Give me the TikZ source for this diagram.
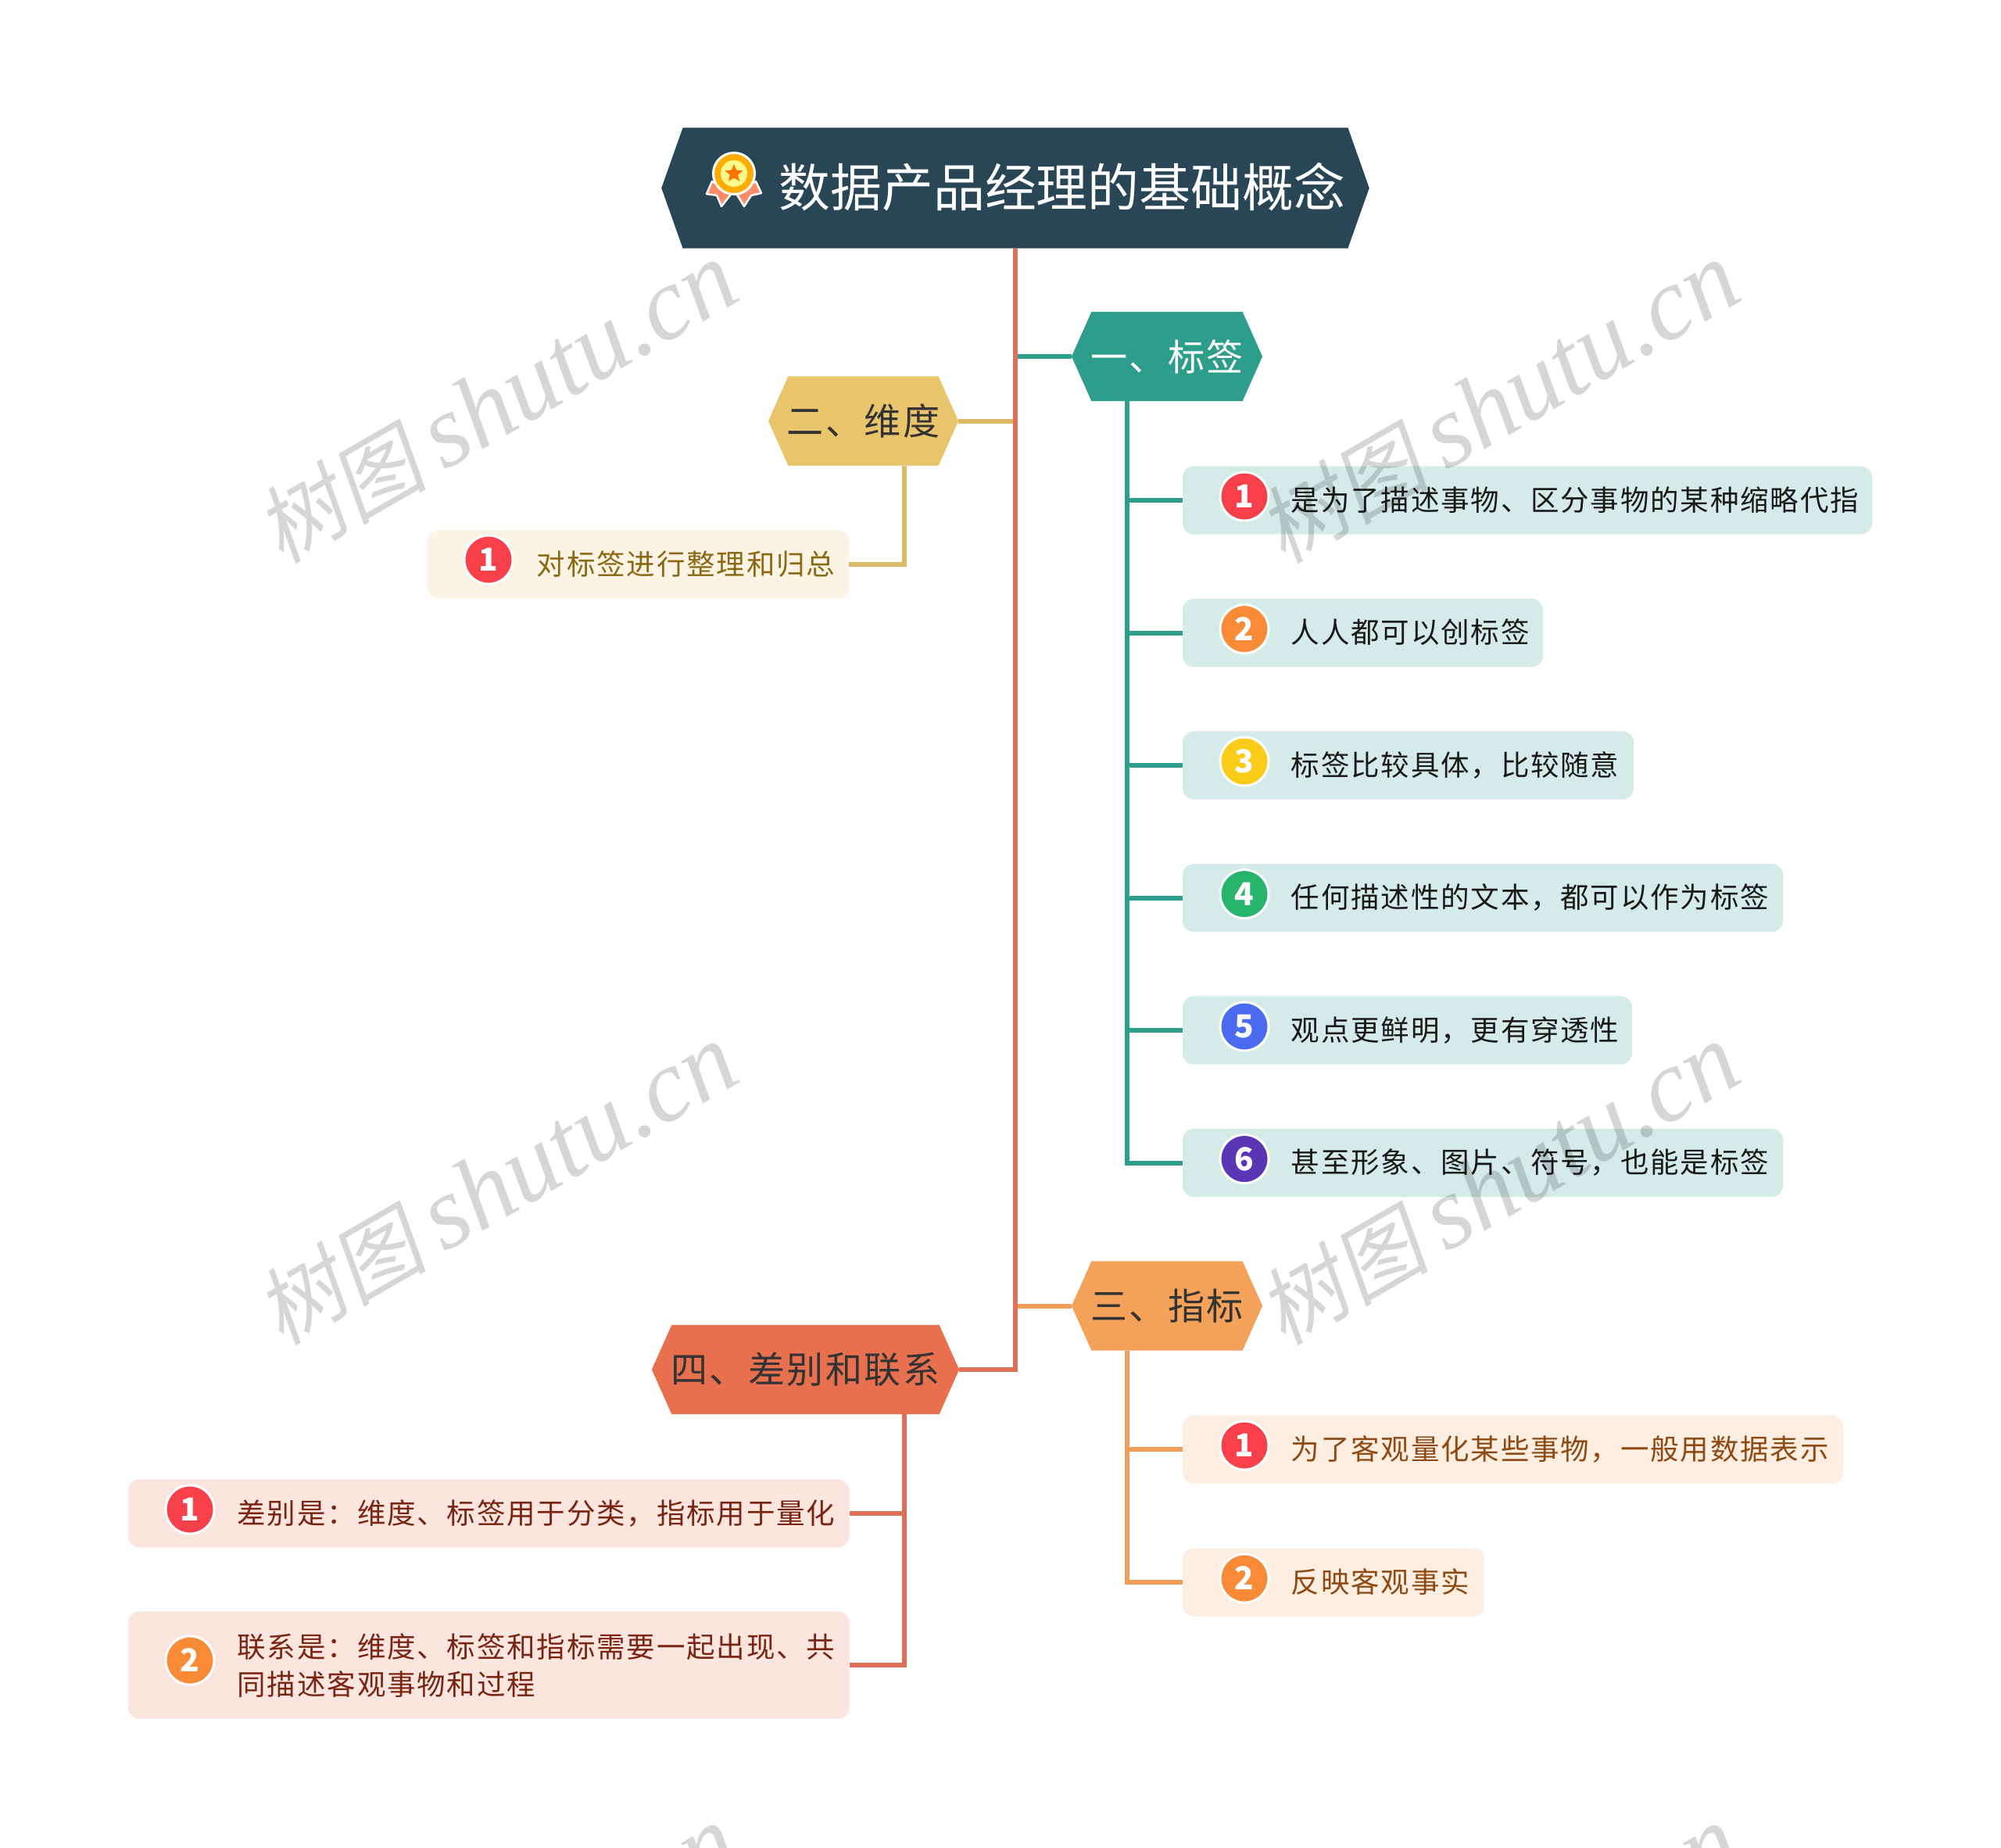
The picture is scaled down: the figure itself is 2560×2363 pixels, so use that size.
\documentclass[tikz,border=0pt]{standalone}
\usepackage{fontspec}
\setmainfont{Liberation Serif}
\newfontfamily\cjk[LetterSpace=5]{Noto Sans CJK SC}
\newfontfamily\cjkplain{Noto Sans CJK SC}
\newfontfamily\cjkslant[FakeSlant=.18]{Noto Sans CJK SC}
\usetikzlibrary{shapes.geometric,shapes.symbols}
\definecolor{rootfill}{HTML}{284655}
\definecolor{tagfill}{HTML}{2D9D8C}
\definecolor{dimfill}{HTML}{E8C46A}
\definecolor{metricfill}{HTML}{F4A15A}
\definecolor{linkfill}{HTML}{E8704F}
\definecolor{trunkline}{HTML}{DE6F56}
\definecolor{badgeone}{HTML}{F8404A}
\definecolor{badgetwo}{HTML}{F98B36}
\definecolor{dimtextcol}{HTML}{8B6914}
\definecolor{metrictextcol}{HTML}{8E4A12}
\definecolor{linktextcol}{HTML}{7A2412}
\begin{document}
\begin{tikzpicture}[
  x=.01cm,y=-.01cm,
  hexa/.style={
    signal,signal from=nowhere,signal to=east and west,draw=none,outer sep=0pt,
    inner xsep=-.1cm,inner ysep=0pt,signal pointer angle=132,minimum height=1.14cm,
    font=\cjk\fontsize{13.4}{15}\selectfont,text=black!80
  },
  leafbox/.style={rounded corners=.14cm,minimum height=.87cm,inner sep=0pt,outer sep=0pt},
  leaftext/.style={anchor=base west,inner sep=0pt,font=\cjk\fontsize{10.38}{14.2}\selectfont},
  badge/.style={
    circle,draw=white,line width=.03cm,minimum size=.62cm,inner sep=0pt,
    text=white,font=\cjkplain\fontsize{11.5}{10}\selectfont\bfseries
  },
  ribbon/.style={fill=orange!50!red!60!white,draw=white,line width=.025cm,line join=round},
  tagline/.style={draw=tagfill,line width=.06cm},
  dimline/.style={draw=dimfill!95!black,line width=.06cm},
  metricline/.style={draw=metricfill!90!brown,line width=.06cm},
  linkline/.style={draw=trunkline,line width=.06cm},
  watermark/.style={
    rotate=30,text=black,text opacity=.16,inner sep=0pt,
    font=\fontsize{37.5}{38}\selectfont\itshape
  }
]
  \useasboundingbox (0,0) rectangle (2560,2363);

  % main topics
  \node[hexa,fill=rootfill,minimum width=9.05cm,minimum height=1.54cm,signal pointer angle=141] (root) at (1299,240.5) {};
  \node[hexa,fill=tagfill,minimum width=2.44cm,text=white] (tagtopic) at (1493,456) {一、标签};
  \node[hexa,fill=dimfill,minimum width=2.43cm] (dimtopic) at (1104.5,538.5) {二、维度};
  \node[hexa,fill=metricfill,minimum width=2.44cm] (metrictopic) at (1493,1670.5) {三、指标};
  \node[hexa,fill=linkfill,minimum width=3.93cm] (linktopic) at (1030.5,1752) {四、差别和联系};

  % title with its medal
  \node[anchor=base west,inner sep=0pt,text=white,font=\cjkplain\fontsize{18.72}{20}\selectfont] (roottitle) at (996,264) {数据产品经理的基础概念};
  \draw[ribbon] (911,232) -- (904,248) -- (917,250) -- (923,264) -- (937,246) -- cycle;
  \draw[ribbon] (967,232) -- (974,247) -- (961,250) -- (952,264) -- (941,246) -- cycle;
  \node[circle,fill=orange!65!yellow,draw=white,line width=.03cm,minimum size=.53cm,inner sep=0pt] (medal) at (939,222) {};
  \node[circle,fill=yellow!45!white,minimum size=.34cm,inner sep=0pt] (medalcore) at (medal) {};
  \node[star,star points=5,star point ratio=2.2,fill=orange!90!red,minimum size=.24cm,inner sep=0pt] (medalstar) at (medal) {};

  % leaves of the first topic
  \foreach \i/\y/\w/\col/\txt in {
    1/640/882/F8404A/是为了描述事物、区分事物的某种缩略代指,
    2/809.6/461/F98B36/人人都可以创标签,
    3/979/577/FBCB1A/标签比较具体，比较随意,
    4/1148.6/768/27B56C/任何描述性的文本，都可以作为标签,
    5/1318/575/4A6BF0/观点更鲜明，更有穿透性,
    6/1487.5/768/5A36B5/甚至形象、图片、符号，也能是标签}
  {
    \definecolor{badgefill}{HTML}{\col}
    \node[leafbox,fill=tagfill!20!white,anchor=west,minimum width=\w*.01cm] (tagleaf\i) at (1513,\y) {};
    \node[badge,fill=badgefill] (tagbadge\i) at (1592,\y-5) {\i};
    \node[leaftext,text=black!90] (tagtext\i) at (1651,\y+13) {\txt};
    \draw[tagline] (tagleaf\i.west) -- (1442,\y);
  }
  \draw[tagline] (tagtopic.south -| tagleaf6.west) ++(-71,0) |- (tagleaf6.west);

  % leaf of the second topic
  \node[leafbox,fill=dimfill!18!white,anchor=west,minimum width=5.39cm] (dimleaf) at (547,722) {};
  \node[badge,fill=badgeone] (dimbadge) at (625,716) {1};
  \node[leaftext,text=dimtextcol] (dimtext) at (686,735) {对标签进行整理和归总};
  \draw[dimline] (dimleaf.east) -| (dimtopic.south -| 1157,0);

  % leaves of the third topic
  \foreach \i/\y/\w/\col/\txt in {
    1/1854/845/F8404A/为了客观量化某些事物，一般用数据表示,
    2/2024/386/F98B36/反映客观事实}
  {
    \definecolor{badgefill}{HTML}{\col}
    \node[leafbox,fill=metricfill!18!white,anchor=west,minimum width=\w*.01cm] (metricleaf\i) at (1513,\y) {};
    \node[badge,fill=badgefill] (metricbadge\i) at (1592,\y-5) {\i};
    \node[leaftext,text=metrictextcol] (metrictext\i) at (1651,\y+13) {\txt};
    \draw[metricline] (metricleaf\i.west) -- (1442,\y);
  }
  \draw[metricline] (metrictopic.south -| metricleaf2.west) ++(-71,0) |- (metricleaf2.west);

  % leaves of the fourth topic
  \node[leafbox,fill=linkfill!18!white,anchor=west,minimum width=9.22cm] (linkleaf1) at (164,1936) {};
  \node[badge,fill=badgeone] (linkbadge1) at (243,1931) {1};
  \node[leaftext,text=linktextcol] (linktext1) at (303,1949) {差别是：维度、标签用于分类，指标用于量化};
  \node[leafbox,fill=linkfill!18!white,anchor=west,minimum width=9.22cm,minimum height=1.37cm] (linkleaf2) at (164,2130) {};
  \node[badge,fill=badgetwo] (linkbadge2) at (243,2124) {2};
  \node[leaftext,text=linktextcol] (linktext2) at (303,2120) {联系是：维度、标签和指标需要一起出现、共};
  \node[leaftext,text=linktextcol] (linktext3) at (303,2168) {同描述客观事物和过程};
  \draw[linkline] (linkleaf1.east) -- (1157,1936);
  \draw[linkline] (linkleaf2.east) -| (linktopic.south -| 1157,0);

  % links into the trunk
  \draw[tagline] (tagtopic.west) -- (tagtopic.west -| root.south);
  \draw[dimline] (dimtopic.east) -- (dimtopic.east -| root.south);
  \draw[metricline] (metrictopic.west) -- (metrictopic.west -| root.south);
  \draw[linkline] (root.south) |- (linktopic.east);

  % watermarks
  \foreach \wx in {636,1918}
    \foreach \wy in {516,1516,2516}
      {\node[watermark] at (\wx,\wy) {{\cjkslant\fontsize{31}{31}\selectfont 树图}\,shutu.cn};}
\end{tikzpicture}
\end{document}
